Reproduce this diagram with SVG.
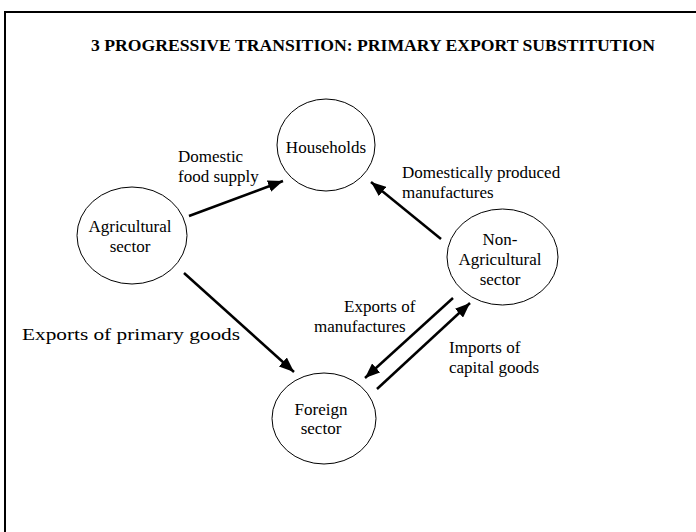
<svg xmlns="http://www.w3.org/2000/svg" width="696" height="532" viewBox="0 0 696 532">
<defs>
<style>
.node{fill:#fff;stroke:#000;stroke-width:1}
.t{font-family:"Liberation Serif","Times New Roman",serif;font-size:17px;fill:#000}
.c{text-anchor:middle}
.title{font-family:"Liberation Serif","Times New Roman",serif;font-size:17.5px;font-weight:bold;fill:#000}
.arr{stroke:#000;stroke-width:2.5;fill:none;marker-end:url(#ah)}
</style>
<marker id="ah" markerUnits="userSpaceOnUse" markerWidth="16" markerHeight="12" refX="15" refY="6" orient="auto">
<path d="M0,0 L15,6 L0,12 z" fill="#000"/>
</marker>
</defs>
<rect width="696" height="532" fill="#fff"/>
<path d="M5,532 V12 H696" fill="none" stroke="#000" stroke-width="2"/>
<text class="title" x="91" y="51" textLength="564" lengthAdjust="spacingAndGlyphs">3 PROGRESSIVE TRANSITION: PRIMARY EXPORT SUBSTITUTION</text>
<g id="connectors">
<path class="arr" d="M189,216 L283,181"/>
<path class="arr" d="M441,239 L371,182"/>
<path class="arr" d="M184,273 L294,372"/>
<path class="arr" d="M453,298 L365,378"/>
<path class="arr" d="M377,389 L470,303"/>
</g>
<g id="households">
<ellipse class="node" cx="326" cy="145" rx="49" ry="46"/>
<text class="t c" x="326" y="153">Households</text>
</g>
<g id="agricultural">
<ellipse class="node" cx="132" cy="235.5" rx="55" ry="48.5"/>
<text class="t c" x="130" y="232">Agricultural</text>
<text class="t c" x="130" y="252">sector</text>
</g>
<g id="non-agricultural">
<ellipse class="node" cx="502.5" cy="257" rx="55.5" ry="48"/>
<text class="t c" x="500" y="245">Non-</text>
<text class="t c" x="500" y="265">Agricultural</text>
<text class="t c" x="500" y="285">sector</text>
</g>
<g id="foreign">
<ellipse class="node" cx="324" cy="418.5" rx="52" ry="45.5"/>
<text class="t c" x="321" y="415">Foreign</text>
<text class="t c" x="321" y="434">sector</text>
</g>
<g id="labels">
<text class="t" x="22" y="340" font-size="18" textLength="218" lengthAdjust="spacingAndGlyphs">Exports of primary goods</text>
<text class="t" x="178" y="162">Domestic</text>
<text class="t" x="178" y="182">food supply</text>
<text class="t" x="402" y="178">Domestically produced</text>
<text class="t" x="402" y="198">manufactures</text>
<text class="t" x="344" y="312">Exports of</text>
<text class="t" x="314" y="332">manufactures</text>
<text class="t" x="449" y="353">Imports of</text>
<text class="t" x="449" y="373">capital goods</text>
</g>
</svg>
